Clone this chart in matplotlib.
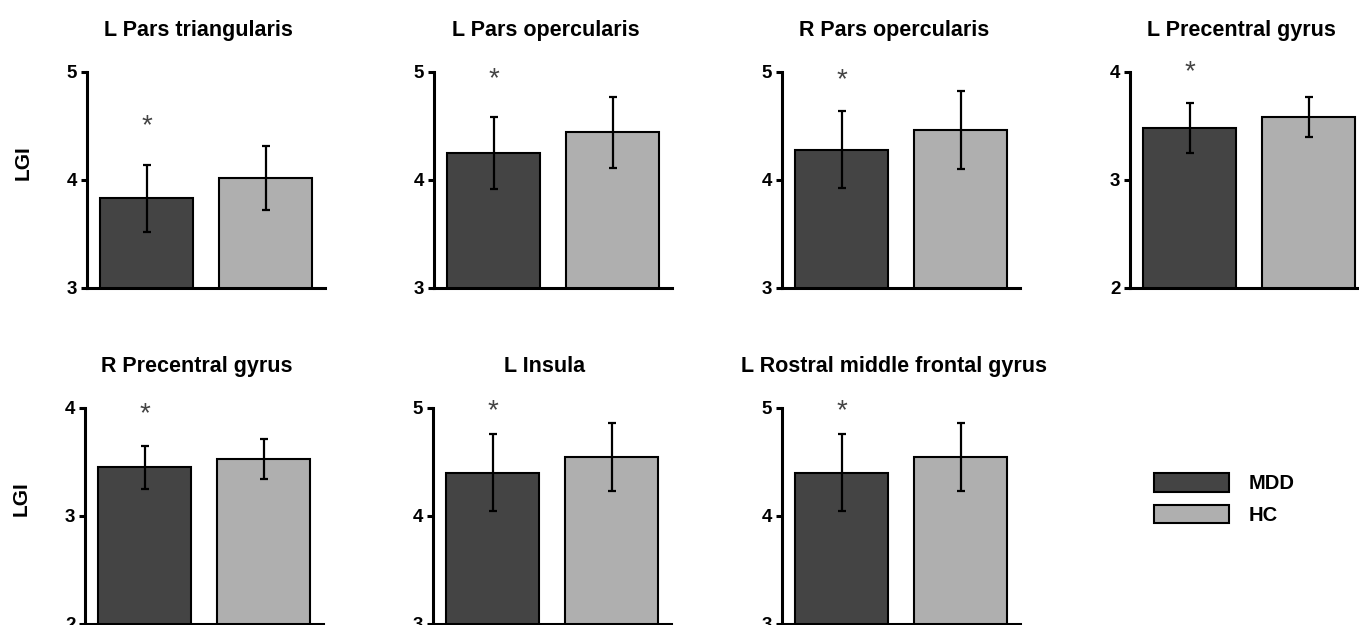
import matplotlib.pyplot as plt
from matplotlib.patches import Patch

plt.rcParams['font.family'] = ['Liberation Sans', 'DejaVu Sans']

regions = ["L Pars triangularis", "L Pars opercularis", "R Pars opercularis",
           "L Precentral gyrus", "R Precentral gyrus", "L Insula",
           "L Rostral middle frontal gyrus"]
groups = ["MDD", "HC"]
mdd_mean = [3.83, 4.25, 4.28, 3.48, 3.45, 4.40, 4.40]
mdd_err = [0.31, 0.335, 0.355, 0.23, 0.20, 0.355, 0.355]
hc_mean = [4.02, 4.44, 4.46, 3.58, 3.53, 4.55, 4.55]
hc_err = [0.295, 0.325, 0.36, 0.185, 0.185, 0.315, 0.315]
y_low = [3, 3, 3, 2, 2, 3, 3]
star_y = [4.50, 4.93, 4.92, 4.0, 3.94, 4.97, 4.97]

colors = ["#444444", "#afafaf"]

W, H = 1359, 625
fig = plt.figure(figsize=(W / 100, H / 100), dpi=100)

# axis left edges (px) and top edges (px)
lefts = [87, 434, 782, 1130, 85, 433, 782]
tops = [72, 72, 72, 72, 408, 408, 408]
aw, ah = 238, 216

for i in range(7):
    ax = fig.add_axes([lefts[i] / W, 1 - (tops[i] + ah) / H, aw / W, ah / H])
    ax.bar([0, 1], [mdd_mean[i], hc_mean[i]], width=0.78, bottom=0,
           color=colors, edgecolor="black", linewidth=1.5, zorder=2)
    ax.errorbar([0, 1], [mdd_mean[i], hc_mean[i]], yerr=[mdd_err[i], hc_err[i]],
                fmt="none", ecolor="black", elinewidth=1.6, capsize=3,
                capthick=1.6, zorder=3)
    ax.text(0, star_y[i], "*", ha="center", va="center", fontsize=20,
            color="#444444", clip_on=False)
    ax.set_xlim(-0.5, 1.5)
    ax.set_ylim(y_low[i], y_low[i] + 2)
    ax.set_yticks([y_low[i], y_low[i] + 1, y_low[i] + 2])
    ax.set_xticks([])
    for s in ["top", "right"]:
        ax.spines[s].set_visible(False)
    for s in ["left", "bottom"]:
        ax.spines[s].set_linewidth(2.2)
    ax.tick_params(axis="y", length=4, width=2.2, pad=3, labelsize=13.5)
    for lab in ax.get_yticklabels():
        lab.set_fontweight("bold")
    ax.set_title(regions[i], fontsize=15.5, fontweight="bold", pad=26, x=0.47)
    if i in (0, 4):
        ax.text(-0.27, 0.58, "LGI", transform=ax.transAxes, rotation=90,
                ha="center", va="center", fontsize=15, fontweight="bold")

handles = [Patch(facecolor=c, edgecolor="black", linewidth=1.5) for c in colors]
fig.legend(handles, groups, loc="center left", bbox_to_anchor=(1136 / W, 1 - 499 / H),
           frameon=False, prop={"size": 14.5, "weight": "bold"},
           handlelength=3.7, handleheight=1.05, handletextpad=1.0, labelspacing=0.55)

fig.savefig("out.png", dpi=100)
